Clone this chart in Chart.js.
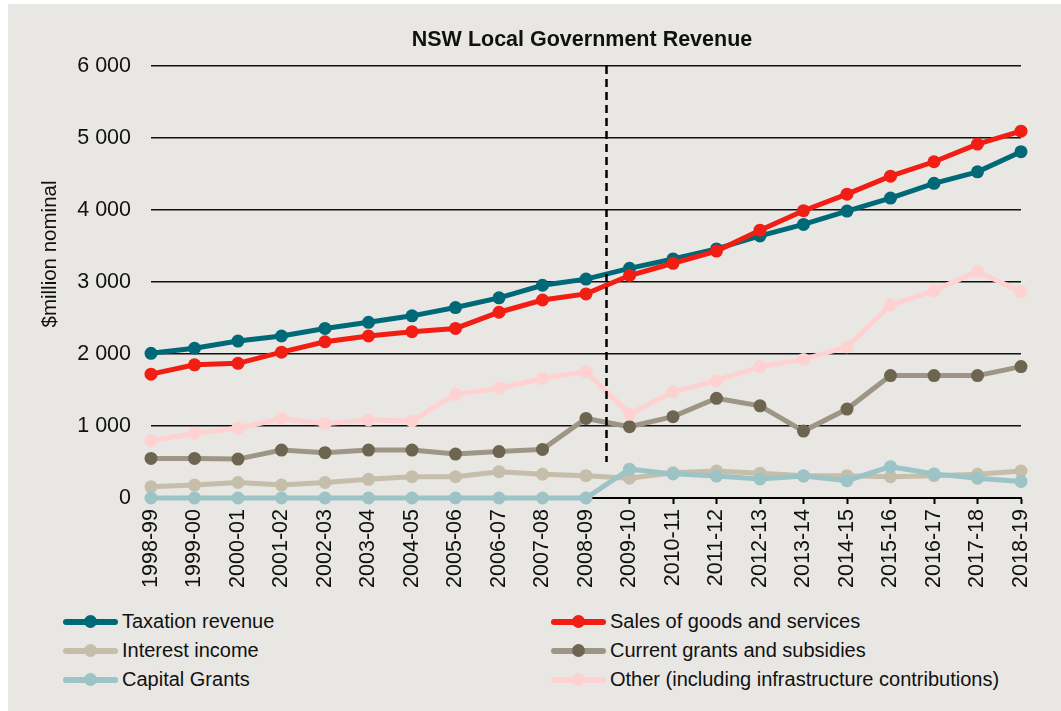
<!DOCTYPE html>
<html>
<head>
<meta charset="utf-8">
<title>NSW Local Government Revenue</title>
<script src="https://cdn.jsdelivr.net/npm/chart.js@4.4.1/dist/chart.umd.min.js"></script>
<style>
    html, body { margin: 0; padding: 0; background: #ffffff; }
    .panel {
        position: absolute; left: 8px; top: 4px;
        width: 1053px; height: 707px;
        background: #E8E7E3;
    }
    #revenueChart { position: absolute; left: 0; top: 0; }
    .legend {
        position: absolute; left: 55px; top: 603px;
        display: grid;
        grid-template-columns: 488px 488px;
        grid-auto-rows: 29px;
        font-family: "Liberation Sans", Arial, sans-serif;
        font-size: 20px;
        color: #111;
    }
    .legend-item { display: flex; align-items: center; white-space: nowrap; }
    .legend-sample { position: relative; width: 55px; height: 14px; margin-right: 4px; }
    .legend-sample .line {
        position: absolute; left: 0; top: 4px; width: 55px; height: 6px; border-radius: 3px;
    }
    .legend-sample .dot {
        position: absolute; left: 21px; top: 0; width: 13px; height: 13px; border-radius: 50%;
    }
</style>
</head>
<body>
<div class="panel">
    <canvas id="revenueChart" width="1053" height="600"></canvas>
    <div class="legend" id="revenueLegend"></div>
</div>

<script>
// Financial years on the x axis
const years = [
    '1998-99', '1999-00', '2000-01', '2001-02', '2002-03', '2003-04', '2004-05',
    '2005-06', '2006-07', '2007-08', '2008-09', '2009-10', '2010-11', '2011-12',
    '2012-13', '2013-14', '2014-15', '2015-16', '2016-17', '2017-18', '2018-19'
];

// Revenue by source, $million nominal
const taxationRevenue = [2010, 2080, 2180, 2250, 2355, 2440, 2530, 2645, 2780, 2955, 3040,
    3190, 3320, 3460, 3640, 3800, 3985, 4165, 4370, 4530, 4810];
const salesOfGoods = [1720, 1850, 1870, 2025, 2170, 2250, 2310, 2355, 2580, 2750, 2835,
    3090, 3260, 3430, 3720, 3990, 4220, 4470, 4670, 4915, 5095];
const interestIncome = [155, 180, 215, 180, 215, 260, 295, 295, 365, 330, 310,
    275, 350, 375, 345, 310, 310, 295, 310, 330, 375];
const currentGrants = [550, 550, 540, 665, 630, 665, 665, 610, 645, 675, 1105,
    990, 1130, 1385, 1280, 930, 1235, 1700, 1700, 1700, 1825];
const capitalGrants = [0, 0, 0, 0, 0, 0, 0, 0, 0, 0, 0,
    400, 335, 305, 265, 305, 240, 435, 335, 275, 230];
const otherRevenue = [795, 900, 970, 1105, 1030, 1085, 1070, 1440, 1525, 1660, 1755,
    1165, 1475, 1630, 1825, 1925, 2100, 2680, 2880, 3145, 2865];

const yTickLabels = ['0', '1 000', '2 000', '3 000', '4 000', '5 000', '6 000'];

const chartTitle = 'NSW Local Government Revenue';
const yAxisTitle = '$million nominal';

// Break in the series (between 2008-09 and 2009-10), drawn as a dashed marker
const breakIndex = 10.46;
const breakBottomValue = 500;

const FONT = '"Liberation Sans", Arial, sans-serif';

function series(label, data, lineColor, pointColor, order) {
    return {
        label: label,
        data: data,
        borderColor: lineColor,
        backgroundColor: lineColor,
        pointBackgroundColor: pointColor,
        pointBorderWidth: 0,
        pointRadius: 6.5,
        pointHoverRadius: 6.5,
        borderWidth: 5,
        tension: 0,
        fill: false,
        clip: false,
        order: order
    };
}

const datasets = [
    series('Taxation revenue', taxationRevenue, '#006978', '#006978', 1),
    series('Sales of goods and services', salesOfGoods, '#F21D13', '#F21D13', 0),
    series('Interest income', interestIncome, '#C5BEAB', '#C5BEAB', 5),
    series('Current grants and subsidies', currentGrants, '#9D9585', '#6D6550', 3),
    series('Capital Grants', capitalGrants, '#9CC3C6', '#9CC3C6', 4),
    series('Other (including infrastructure contributions)', otherRevenue, '#FFD2D2', '#FFD2D2', 2)
];

// Title, y axis caption and the dashed break line
const annotations = {
    id: 'annotations',
    afterDatasetsDraw(chart) {
        const { ctx, chartArea, scales } = chart;
        const xs = scales.x, ys = scales.y;
        ctx.save();

        const x0 = xs.getPixelForValue(Math.floor(breakIndex));
        const x1 = xs.getPixelForValue(Math.floor(breakIndex) + 1);
        const bx = Math.round(x0 + (x1 - x0) * (breakIndex - Math.floor(breakIndex))) + 0.5;
        ctx.strokeStyle = '#000';
        ctx.lineWidth = 2.5;
        ctx.setLineDash([8, 5]);
        ctx.beginPath();
        ctx.moveTo(bx, ys.getPixelForValue(6000));
        ctx.lineTo(bx, ys.getPixelForValue(breakBottomValue));
        ctx.stroke();
        ctx.setLineDash([]);

        ctx.fillStyle = '#111';
        ctx.font = 'bold 21.5px ' + FONT;
        ctx.textAlign = 'center';
        ctx.textBaseline = 'middle';
        ctx.fillText(chartTitle, (chartArea.left + chartArea.right) / 2 - 4, 36);

        ctx.font = '20.5px ' + FONT;
        ctx.translate(42, 250);
        ctx.rotate(-Math.PI / 2);
        ctx.fillText(yAxisTitle, 0, 0);
        ctx.restore();
    }
};

const chart = new Chart(document.getElementById('revenueChart'), {
    type: 'line',
    data: { labels: years, datasets: datasets },
    options: {
        responsive: false,
        animation: false,
        layout: { padding: { top: 62, right: 40, bottom: 0, left: 0 } },
        plugins: {
            legend: { display: false },
            title: { display: false },
            tooltip: { enabled: false }
        },
        scales: {
            x: {
                offset: false,
                grid: {
                    drawOnChartArea: false,
                    drawTicks: true,
                    tickLength: 6,
                    tickWidth: 2,
                    tickColor: '#000'
                },
                border: { display: true, color: '#000', width: 2 },
                ticks: {
                    autoSkip: false,
                    minRotation: 90,
                    maxRotation: 90,
                    padding: 5,
                    color: '#111',
                    font: { family: FONT, size: 21.5 }
                },
                afterFit(scale) { scale.height = 106; }
            },
            y: {
                min: 0,
                max: 6000,
                ticks: {
                    stepSize: 1000,
                    padding: 20,
                    color: '#111',
                    font: { family: FONT, size: 21.5 },
                    callback: (value, index) => yTickLabels[index]
                },
                grid: { color: '#111', lineWidth: 1.5, drawTicks: false },
                border: { display: false },
                afterFit(scale) { scale.width = 143; }
            }
        }
    },
    plugins: [annotations]
});

// Two-column legend built from the chart's datasets
const legendOrder = [0, 1, 2, 3, 4, 5];
const legendBox = document.getElementById('revenueLegend');
legendOrder.forEach(i => {
    const ds = chart.data.datasets[i];
    const item = document.createElement('div');
    item.className = 'legend-item';
    item.innerHTML =
        '<span class="legend-sample">' +
        '<span class="line" style="background:' + ds.borderColor + '"></span>' +
        '<span class="dot" style="background:' + ds.pointBackgroundColor + '"></span>' +
        '</span><span>' + ds.label + '</span>';
    legendBox.appendChild(item);
});
</script>
</body>
</html>
